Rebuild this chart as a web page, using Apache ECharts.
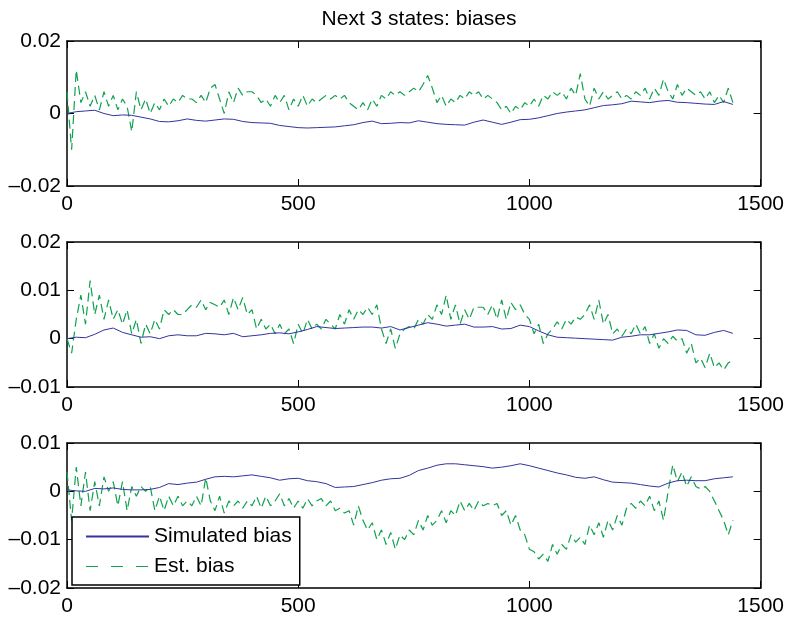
<!DOCTYPE html>
<html>
<head>
<meta charset="utf-8">
<script src="https://cdn.jsdelivr.net/npm/echarts@6/dist/echarts.min.js"></script>
<style>
html,body{margin:0;padding:0;background:#fff;}
#chart{width:787px;height:619px;}
</style>
</head>
<body>
<div id="chart"></div>
<script>
// Sample spacing (time steps) for the read-off values
var simStep = 20;
var estStep = 10;

var xTicks = [0, 500, 1000, 1500];
var titleText = 'Next 3 states: biases';
var seriesNames = ['Simulated bias', 'Est. bias'];

// Panel 1
var sim1 = [0.0000,0.0005,0.0007,0.0009,0.0000,-0.0006,-0.0004,-0.0005,-0.0010,-0.0015,-0.0022,-0.0023,-0.0020,-0.0015,-0.0019,-0.0021,-0.0018,-0.0015,-0.0016,-0.0022,-0.0025,-0.0026,-0.0027,-0.0033,-0.0036,-0.0039,-0.0040,-0.0039,-0.0038,-0.0037,-0.0034,-0.0031,-0.0025,-0.0021,-0.0028,-0.0027,-0.0025,-0.0026,-0.0020,-0.0024,-0.0028,-0.0030,-0.0031,-0.0032,-0.0024,-0.0018,-0.0024,-0.0030,-0.0024,-0.0017,-0.0016,-0.0012,-0.0006,0.0000,0.0004,0.0007,0.0010,0.0016,0.0022,0.0024,0.0027,0.0034,0.0032,0.0030,0.0034,0.0036,0.0031,0.0030,0.0028,0.0026,0.0025,0.0033,0.0025];
var est1 = [0.006,-0.010,0.012,0.003,0.006,0.002,0.005,0.001,0.006,0.002,0.005,0.001,0.004,0.002,-0.005,0.006,0.001,0.004,0.000,0.003,0.001,0.004,0.002,0.004,0.003,0.005,0.004,0.004,0.003,0.005,0.003,0.007,0.008,0.004,0.000,0.006,0.003,0.007,0.005,0.006,0.006,0.005,0.003,0.004,0.002,0.005,0.003,0.005,0.001,0.004,0.002,0.005,0.002,0.004,0.003,0.004,0.005,0.004,0.005,0.004,0.005,0.003,0.002,0.001,0.003,0.001,0.004,0.002,0.005,0.004,0.006,0.005,0.006,0.005,0.006,0.007,0.006,0.008,0.0105,0.007,0.003,0.005,0.002,0.004,0.003,0.005,0.004,0.006,0.005,0.006,0.004,0.005,0.004,0.003,0.001,0.002,0.000,0.002,0.001,0.003,0.002,0.004,0.002,0.005,0.004,0.006,0.005,0.006,0.004,0.007,0.005,0.011,0.004,0.002,0.007,0.004,0.006,0.004,0.005,0.006,0.004,0.005,0.004,0.006,0.005,0.007,0.004,0.007,0.005,0.0095,0.006,0.004,0.008,0.005,0.007,0.006,0.005,0.006,0.004,0.006,0.003,0.005,0.003,0.007,0.003];

// Panel 2
var sim2 = [0.0000,0.0003,0.0002,0.0009,0.0018,0.0022,0.0013,0.0008,0.0003,0.0004,0.0000,0.0006,0.0008,0.0006,0.0006,0.0011,0.0010,0.0008,0.0011,0.0004,0.0006,0.0008,0.0011,0.0012,0.0010,0.0014,0.0019,0.0025,0.0023,0.0021,0.0022,0.0023,0.0024,0.0024,0.0022,0.0025,0.0018,0.0023,0.0028,0.0033,0.0030,0.0026,0.0028,0.0030,0.0024,0.0024,0.0025,0.0020,0.0021,0.0028,0.0025,0.0016,0.0008,0.0003,0.0002,0.0001,0.0000,-0.0001,-0.0002,-0.0003,0.0003,0.0005,0.0008,0.0008,0.0011,0.0014,0.0018,0.0017,0.0008,0.0007,0.0013,0.0017,0.0011];
var est2 = [0.000,-0.003,0.004,0.009,0.003,0.012,0.005,0.009,0.004,0.008,0.004,0.006,0.003,0.006,0.001,0.004,-0.001,0.003,0.001,0.004,0.002,0.006,0.005,0.006,0.005,0.005,0.006,0.007,0.0065,0.008,0.006,0.0075,0.007,0.0065,0.008,0.005,0.0085,0.006,0.0085,0.005,0.006,0.002,0.004,0.002,0.003,0.001,0.003,0.001,0.002,-0.001,0.003,0.001,0.004,0.002,0.003,0.002,0.004,0.003,0.002,0.005,0.003,0.006,0.004,0.006,0.005,0.0065,0.005,0.007,0.002,-0.001,0.002,-0.002,0.001,0.002,0.0025,0.002,0.004,0.003,0.005,0.004,0.007,0.005,0.009,0.004,0.007,0.003,0.006,0.004,0.0065,0.0065,0.0065,0.005,0.007,0.004,0.008,0.004,0.0075,0.006,0.007,0.005,0.004,0.001,0.003,-0.001,0.001,0.002,0.0035,0.002,0.004,0.003,0.0045,0.004,0.005,0.007,0.004,0.008,0.003,0.005,0.001,0.002,0.0005,0.002,0.001,0.003,0.001,0.0025,-0.001,0.001,-0.002,0.000,-0.001,0.0005,-0.0005,0.000,-0.003,-0.001,-0.005,-0.004,-0.006,-0.003,-0.006,-0.005,-0.0065,-0.005,-0.0045];

// Panel 3
var sim3 = [0.0003,0.0001,0.0000,0.0006,0.0005,0.0007,0.0004,0.0003,0.0003,0.0004,0.0008,0.0016,0.0014,0.0017,0.0019,0.0025,0.0030,0.0031,0.0030,0.0032,0.0034,0.0031,0.0028,0.0023,0.0026,0.0027,0.0022,0.0020,0.0016,0.0008,0.0009,0.0010,0.0014,0.0018,0.0023,0.0026,0.0027,0.0033,0.0043,0.0048,0.0054,0.0057,0.0057,0.0055,0.0053,0.0051,0.0048,0.0050,0.0053,0.0057,0.0053,0.0048,0.0043,0.0038,0.0034,0.0029,0.0027,0.0030,0.0024,0.0019,0.0018,0.0017,0.0014,0.0011,0.0009,0.0017,0.0022,0.0023,0.0022,0.0022,0.0026,0.0028,0.0030];
var est3 = [0.004,-0.006,0.005,-0.003,0.004,-0.004,0.002,-0.003,0.003,0.000,0.002,-0.003,0.002,-0.004,0.001,-0.001,0.001,0.000,0.001,-0.004,-0.001,-0.004,-0.001,-0.003,-0.001,-0.003,-0.002,-0.003,-0.001,-0.003,0.0028,-0.002,-0.004,-0.001,-0.0045,-0.002,-0.003,-0.002,-0.0035,-0.002,-0.003,-0.001,-0.0035,-0.001,-0.003,-0.002,-0.0005,-0.003,-0.0015,-0.0035,-0.002,-0.0035,-0.0015,-0.003,-0.002,-0.0015,-0.003,-0.002,-0.004,-0.0035,-0.0045,-0.004,-0.007,-0.003,-0.006,-0.008,-0.0065,-0.010,-0.008,-0.011,-0.0085,-0.012,-0.009,-0.010,-0.008,-0.009,-0.006,-0.008,-0.005,-0.007,-0.006,-0.004,-0.0065,-0.004,-0.005,-0.002,-0.004,-0.0025,-0.004,-0.002,-0.003,-0.0025,-0.003,-0.0025,-0.005,-0.004,-0.007,-0.005,-0.008,-0.009,-0.012,-0.0125,-0.014,-0.013,-0.0145,-0.011,-0.013,-0.011,-0.012,-0.009,-0.0105,-0.0095,-0.011,-0.007,-0.009,-0.0065,-0.0095,-0.006,-0.008,-0.005,-0.007,-0.0035,-0.0025,-0.0035,-0.002,-0.003,-0.001,-0.004,-0.002,-0.006,0.000,0.0055,0.002,0.004,0.001,0.003,0.001,0.0005,0.001,0.000,-0.002,-0.004,-0.006,-0.009,-0.006];

var yRanges = [
  {min: -0.02, max: 0.02, interval: 0.02},
  {min: -0.01, max: 0.02, interval: 0.01},
  {min: -0.02, max: 0.01, interval: 0.01}
];

var simSets = [sim1, sim2, sim3];
var estSets = [est1, est2, est3];

function pairs(arr, step) {
  return arr.map(function (v, i) { return [i * step, v]; });
}

var FONT = '"Liberation Sans", Arial, Helvetica, sans-serif';
var FS = 21;
var BLUE = '#34349e';
var GREEN = '#0fa14f';

var gridTops = [41, 242, 443];
var grids = [], xAxes = [], yAxes = [], series = [];

function fmtY(v) {
  var s = (Math.round(v * 1000) / 1000).toString();
  return s.replace('-', '\u2013');
}
function fmtX(v) { return String(Math.round(v)); }

for (var p = 0; p < 3; p++) {
  grids.push({left: 67, right: 25, top: gridTops[p], height: 145, containLabel: false});
  var common = {
    type: 'value', gridIndex: p, min: xTicks[0], max: xTicks[xTicks.length - 1], interval: 500,
    splitLine: {show: false},
    axisLine: {show: true, onZero: false, lineStyle: {color: '#000', width: 1.5}},
    axisTick: {show: true, inside: true, length: 7, lineStyle: {color: '#000', width: 1}}
  };
  xAxes.push(Object.assign({}, common, {
    position: 'bottom',
    axisLabel: {show: true, color: '#000', fontSize: FS, fontFamily: FONT, margin: 8, formatter: fmtX}
  }));
  xAxes.push(Object.assign({}, common, {
    position: 'top', axisLabel: {show: false}
  }));
  var yr = yRanges[p];
  var ycommon = {
    type: 'value', gridIndex: p, min: yr.min, max: yr.max, interval: yr.interval,
    splitLine: {show: false},
    axisLine: {show: true, onZero: false, lineStyle: {color: '#000', width: 1.5}},
    axisTick: {show: true, inside: true, length: 7, lineStyle: {color: '#000', width: 1}}
  };
  yAxes.push(Object.assign({}, ycommon, {
    position: 'left',
    axisLabel: {show: true, color: '#000', fontSize: FS, fontFamily: FONT, margin: 6, formatter: fmtY}
  }));
  yAxes.push(Object.assign({}, ycommon, {
    position: 'right', axisLabel: {show: false}
  }));

  series.push({
    name: seriesNames[0], type: 'line', xAxisIndex: p * 2, yAxisIndex: p * 2,
    data: pairs(simSets[p], simStep), showSymbol: false, symbol: 'none',
    lineStyle: {color: BLUE, width: 1}, itemStyle: {color: BLUE},
    animation: false, z: 3
  });
  series.push({
    name: seriesNames[1], type: 'line', xAxisIndex: p * 2, yAxisIndex: p * 2,
    data: pairs(estSets[p], estStep), showSymbol: false, symbol: 'none',
    lineStyle: {color: GREEN, width: 1.2, type: [9, 5]}, itemStyle: {color: GREEN},
    animation: false, z: 2
  });
}

var option = {
  backgroundColor: '#fff',
  animation: false,
  title: {
    text: titleText, left: 414, top: 4, textAlign: 'center',
    textStyle: {fontSize: FS, fontWeight: 'normal', color: '#000', fontFamily: FONT}
  },
  legend: {
    data: [
      {name: seriesNames[0], itemStyle: {opacity: 0}},
      {name: seriesNames[1], itemStyle: {opacity: 0}, lineStyle: {type: [12, 13], width: 1.2}}
    ],
    itemStyle: {opacity: 0},
    orient: 'vertical', left: 72, top: 517,
    itemWidth: 63, itemHeight: 20, itemGap: 9,
    padding: [9, 8, 8, 13],
    backgroundColor: '#fff', borderColor: '#000', borderWidth: 1.5, borderRadius: 0,
    textStyle: {fontSize: FS, color: '#000', fontFamily: FONT},
    selectedMode: false, z: 10
  },
  grid: grids,
  xAxis: xAxes,
  yAxis: yAxes,
  series: series
};

var chart = echarts.init(document.getElementById('chart'), null, {renderer: 'canvas'});
chart.setOption(option);
</script>
</body>
</html>
